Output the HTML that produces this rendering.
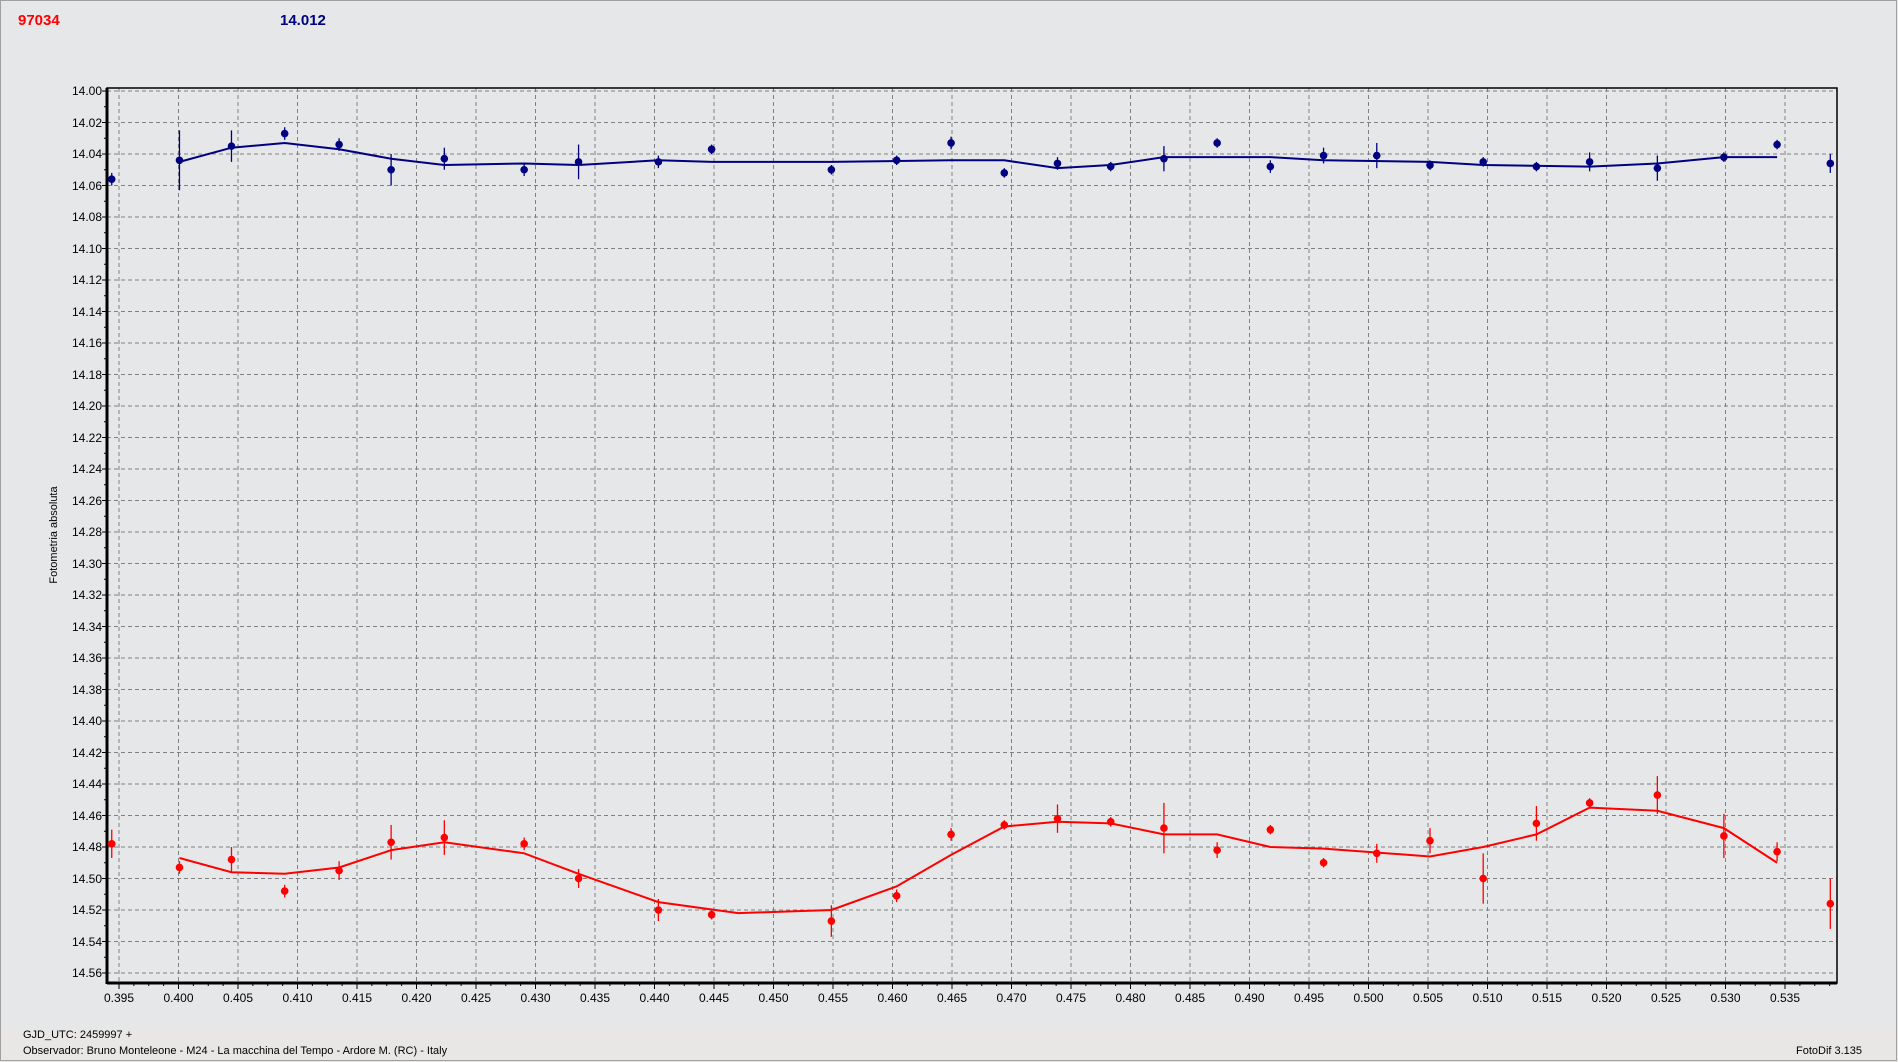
<!DOCTYPE html>
<html><head><meta charset="utf-8"><style>
html,body{margin:0;padding:0;background:#e6e7e9;}
svg{display:block;font-family:"Liberation Sans",sans-serif;}
</style></head><body>
<svg id="s" width="1898" height="1062" xmlns="http://www.w3.org/2000/svg">
<rect x="0" y="0" width="1898" height="1062" fill="#e6e7e9"/>
<rect x="0" y="1028" width="1898" height="34" fill="#e8e7e5"/>
<rect x="0.5" y="0.5" width="1896" height="1060" fill="none" stroke="#a0a0a0"/>
<text x="18" y="25" fill="#ff0000" font-size="15" font-weight="bold">97034</text>
<text x="280" y="25" fill="#000080" font-size="15" font-weight="bold">14.012</text>
<text transform="translate(57,535) rotate(-90)" text-anchor="middle" font-size="11" fill="#000">Fotometria absoluta</text>
<g id="grid"></g>
<g font-size="12" fill="#000" text-anchor="end">
<text x="102" y="95">14.00</text><text x="102" y="127">14.02</text><text x="102" y="158">14.04</text><text x="102" y="190">14.06</text><text x="102" y="221">14.08</text><text x="102" y="253">14.10</text><text x="102" y="284">14.12</text><text x="102" y="316">14.14</text><text x="102" y="347">14.16</text><text x="102" y="379">14.18</text><text x="102" y="410">14.20</text><text x="102" y="442">14.22</text><text x="102" y="473">14.24</text><text x="102" y="505">14.26</text><text x="102" y="536">14.28</text><text x="102" y="568">14.30</text><text x="102" y="599">14.32</text><text x="102" y="631">14.34</text><text x="102" y="662">14.36</text><text x="102" y="694">14.38</text><text x="102" y="725">14.40</text><text x="102" y="757">14.42</text><text x="102" y="788">14.44</text><text x="102" y="820">14.46</text><text x="102" y="851">14.48</text><text x="102" y="883">14.50</text><text x="102" y="914">14.52</text><text x="102" y="946">14.54</text><text x="102" y="977">14.56</text>
</g>
<g font-size="12" fill="#000" text-anchor="middle">
<text x="119" y="1002">0.395</text><text x="178.5" y="1002">0.400</text><text x="238" y="1002">0.405</text><text x="297.5" y="1002">0.410</text><text x="357" y="1002">0.415</text><text x="416.5" y="1002">0.420</text><text x="476" y="1002">0.425</text><text x="535.5" y="1002">0.430</text><text x="595" y="1002">0.435</text><text x="654.5" y="1002">0.440</text><text x="714" y="1002">0.445</text><text x="773.5" y="1002">0.450</text><text x="833" y="1002">0.455</text><text x="892.5" y="1002">0.460</text><text x="952" y="1002">0.465</text><text x="1011.5" y="1002">0.470</text><text x="1071" y="1002">0.475</text><text x="1130.5" y="1002">0.480</text><text x="1190" y="1002">0.485</text><text x="1249.5" y="1002">0.490</text><text x="1309" y="1002">0.495</text><text x="1368.5" y="1002">0.500</text><text x="1428" y="1002">0.505</text><text x="1487.5" y="1002">0.510</text><text x="1547" y="1002">0.515</text><text x="1606.5" y="1002">0.520</text><text x="1666" y="1002">0.525</text><text x="1725.5" y="1002">0.530</text><text x="1785" y="1002">0.535</text>
</g>
<text x="23" y="1038" font-size="11" fill="#000">GJD_UTC: 2459997 +</text>
<text x="23" y="1054" font-size="11" fill="#000">Observador: Bruno Monteleone - M24 - La macchina del Tempo - Ardore M. (RC) - Italy</text>
<text x="1796" y="1054" font-size="11" fill="#000">FotoDif 3.135</text>
<g id="data"></g>
</svg>
<script>
var NS="http://www.w3.org/2000/svg",g=document.getElementById('grid'),d=document.getElementById('data');
function el(p,t,a){var e=document.createElementNS(NS,t);for(var k in a)e.setAttribute(k,a[k]);p.appendChild(e);return e;}
var L=107,R=1837,T=88,B=983,T0=91,S=31.5;
for(var i=0;i<=28;i++){var y=T0+i*S;el(g,'line',{x1:L,x2:R,y1:y,y2:y,stroke:'#808080','stroke-dasharray':'4,3'});el(g,'line',{x1:L-5,x2:L,y1:y,y2:y,stroke:'#000'});
var y2=y+S/2;if(y2<B)el(g,'line',{x1:L-3,x2:L,y1:y2,y2:y2,stroke:'#000'});}
for(var i=0;i<=28;i++){var x=119+i*59.5;el(g,'line',{x1:x,x2:x,y1:T,y2:B,stroke:'#808080','stroke-dasharray':'4,3'});el(g,'line',{x1:x,x2:x,y1:B,y2:B+6,stroke:'#000'});
for(var j=1;j<4;j++){var xm=x+j*14.875;if(xm<R)el(g,'line',{x1:xm,x2:xm,y1:B,y2:B+3,stroke:'#000'});}}
el(g,'rect',{x:L,y:T,width:R-L,height:B-T,fill:'none',stroke:'#000','stroke-width':1.5});
el(g,'line',{x1:L,x2:L,y1:T,y2:B+1,stroke:'#000','stroke-width':3});
el(g,'line',{x1:L,x2:R,y1:B,y2:B,stroke:'#000','stroke-width':3});
function X(dx){return 119+(dx-98)*1.2094;}function Y(m){return T0+(m-14)*S*50;}
function series(pts,line,c){
var s=line.map(function(p){return X(p[0])+','+Y(p[1]);}).join(' ');
el(d,'polyline',{points:s,fill:'none',stroke:c,'stroke-width':2});
pts.forEach(function(p){var x=X(p[0]),y=Y(p[1]),e=p[2]||0.005;
el(d,'line',{x1:x,x2:x,y1:Y(p[1]-e),y2:Y(p[1]+e),stroke:c,'stroke-width':1.3});
el(d,'circle',{cx:x,cy:y,r:3.8,fill:c});});}
series([[92,14.056,.004],[148,14.044,.019],[191,14.035,.01],[235,14.027,.004],[280,14.034,.004],[323,14.050,.01],[367,14.043,.007],[433,14.050,.004],[478,14.045,.011],[544,14.045,.004],[588,14.037,.003],[687,14.050,.003],[741,14.044,.003],[786,14.033,.004],[830,14.052,.003],[874,14.046,.004],[918,14.048,.003],[962,14.043,.008],[1006,14.033,.003],[1050,14.048,.004],[1094,14.041,.005],[1138,14.041,.008],[1182,14.047,.003],[1226,14.045,.003],[1270,14.048,.003],[1314,14.045,.006],[1370,14.049,.008],[1425,14.042,.003],[1469,14.034,.003],[1513,14.046,.006]],
[[148,14.045],[191,14.036],[235,14.033],[280,14.037],[323,14.043],[367,14.047],[433,14.046],[478,14.047],[544,14.044],[588,14.045],[687,14.045],[786,14.044],[830,14.044],[874,14.049],[918,14.047],[962,14.042],[1050,14.042],[1094,14.044],[1182,14.045],[1226,14.047],[1314,14.048],[1370,14.046],[1425,14.042],[1469,14.042]],'#000080');
series([[92,14.478,.009],[148,14.493,.004],[191,14.488,.008],[235,14.508,.004],[280,14.495,.006],[323,14.477,.011],[367,14.474,.011],[433,14.478,.004],[478,14.500,.006],[544,14.520,.007],[588,14.523,.003],[687,14.527,.01],[741,14.511,.004],[786,14.472,.004],[830,14.466,.003],[874,14.462,.009],[918,14.464,.003],[962,14.468,.016],[1006,14.482,.005],[1050,14.469,.003],[1094,14.490,.003],[1138,14.484,.006],[1182,14.476,.008],[1226,14.500,.016],[1270,14.465,.011],[1314,14.452,.003],[1370,14.447,.012],[1425,14.473,.014],[1469,14.483,.006],[1513,14.516,.016]],
[[148,14.487],[191,14.496],[235,14.497],[280,14.493],[323,14.482],[367,14.477],[433,14.484],[478,14.497],[544,14.515],[610,14.522],[687,14.520],[741,14.505],[786,14.485],[830,14.467],[874,14.464],[918,14.465],[962,14.472],[1006,14.472],[1050,14.480],[1094,14.481],[1182,14.486],[1226,14.480],[1270,14.472],[1314,14.455],[1370,14.457],[1425,14.468],[1469,14.490]],'#ff0000');
</script>
</body></html>
